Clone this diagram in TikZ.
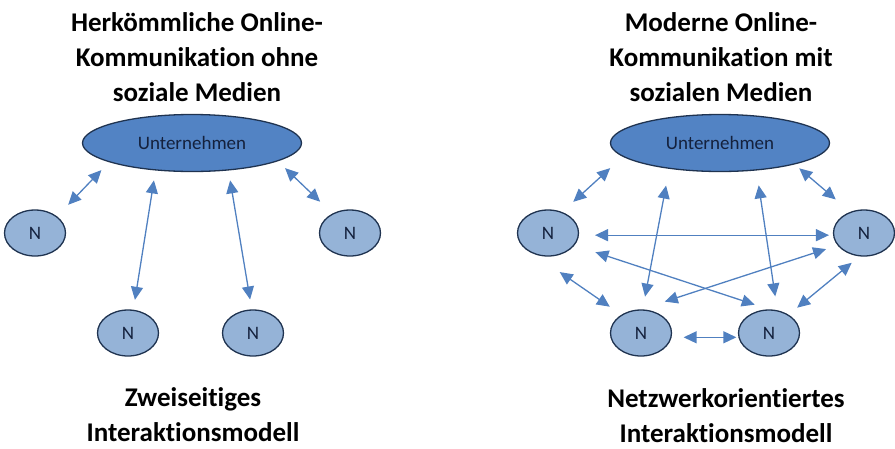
\documentclass[tikz,border=0pt]{standalone}
\usepackage{fontspec}
\setmainfont{Carlito}[Ligatures=NoCommon]
\usepackage{tikz}
\usetikzlibrary{arrows.meta,shapes.geometric}
\definecolor{untblue}{HTML}{5283C4}
\definecolor{nblue}{HTML}{95B3D7}
\definecolor{rimblue}{HTML}{1F3350}
\definecolor{linkblue}{HTML}{5080C0}
\definecolor{inkblue}{HTML}{14213D}
\begin{document}
\begin{tikzpicture}[x=1pt,y=-1pt,
    unt/.style={ellipse,draw=rimblue,line width=1.3pt,fill=untblue,minimum width=219pt,minimum height=57pt,inner sep=0pt,text=inkblue,font=\fontsize{19}{22}\selectfont},
    nn/.style={ellipse,draw=rimblue,line width=1.3pt,fill=nblue,minimum width=61pt,minimum height=46pt,inner sep=0pt,text=inkblue,font=\fontsize{19}{22}\selectfont},
    ttl/.style={align=center,inner sep=0pt,font=\bfseries\fontsize{27}{35}\selectfont},
    link/.style={{Triangle[length=13pt,width=12pt]}-{Triangle[length=13pt,width=12pt]},draw=linkblue,line width=1.3pt}]
    \useasboundingbox (0,0) rectangle (895,448);
    % links ohne soziale Medien
    \node[ttl] (tL) at (197,57) {Herkömmliche Online-\\Kommunikation ohne\\soziale Medien};
    \node[unt] (uL) at (192,143) {Unternehmen};
    \node[nn] (a1) at (35,233) {N};
    \node[nn] (a2) at (128,333) {N};
    \node[nn] (a3) at (253,333) {N};
    \node[nn] (a4) at (350,233) {N};
    \node[ttl] (sL) at (193,415) {Zweiseitiges\\Interaktionsmodell};
    \draw[link,shorten <=16pt,shorten >=11pt](a1.37)--(uL.193);
    \draw[link,shorten <=10pt,shorten >=10pt](a2.77)--(uL.217);
    \draw[link,shorten <=10pt,shorten >=10pt](a3.93)--(uL.323);
    \draw[link,shorten <=17pt,shorten >=10pt](a4.132)--(uL.348);
    % rechts mit sozialen Medien
    \node[ttl] (tR) at (721,57) {Moderne Online-\\Kommunikation mit\\sozialen Medien};
    \node[unt] (uR) at (720,143) {Unternehmen};
    \node[nn] (b1) at (548,233) {N};
    \node[nn] (b2) at (641,333) {N};
    \node[nn] (b3) at (769,333) {N};
    \node[nn] (b4) at (864,233) {N};
    \node[ttl] (sR) at (726,416) {Netzwerkorientiertes\\Interaktionsmodell};
    \draw[link,shorten <=15pt,shorten >=17pt](b1.56)--(uR.188);
    \draw[link,shorten <=13pt,shorten >=17pt](b2.86)--(uR.207);
    \draw[link,shorten <=14pt,shorten >=15pt](b3.70)--(uR.323);
    \draw[link,shorten <=6pt,shorten >=19pt](uR.344)--(b4.123);
    \draw[link,shorten <=16pt,shorten >=4pt](b1.356)--(b4.184);
    \draw[link,shorten <=22pt,shorten >=15pt](b1.335)--(b3.north);
    \draw[link,shorten <=12pt,shorten >=25pt](b4.205)--(b2.north);
    \draw[link,shorten <=32pt,shorten >=14pt](b1.235)--(b2.137);
    \draw[link,shorten <=10pt,shorten >=11pt](b4.259)--(b3.43);
    \draw[link,shorten <=12pt,shorten >=2pt](b2.352)--(b3.188);
\end{tikzpicture}
\end{document}
